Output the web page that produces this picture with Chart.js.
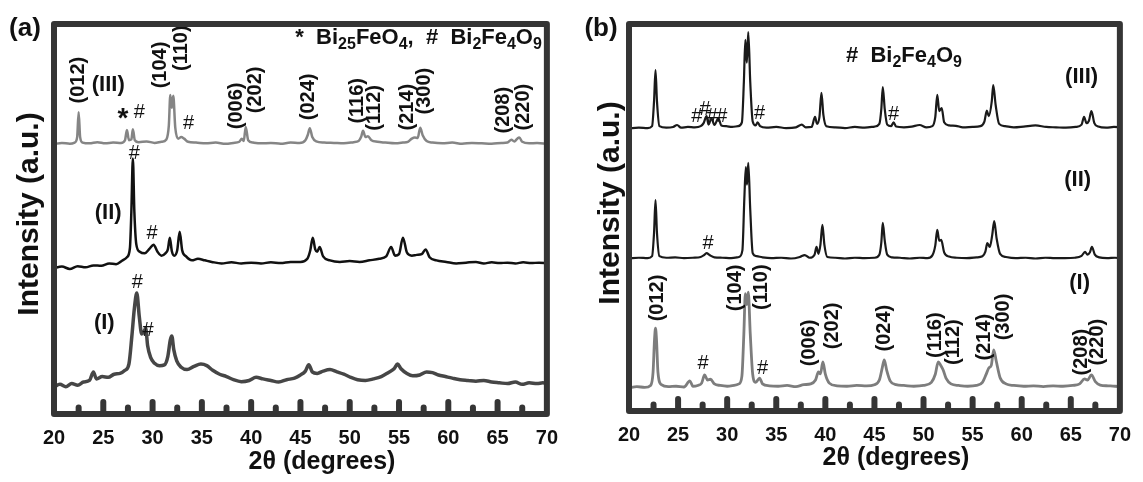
<!DOCTYPE html>
<html>
<head>
<meta charset="utf-8">
<script src="https://cdn.jsdelivr.net/npm/chart.js@4.4.1/dist/chart.umd.min.js"></script>
<style>
  body { margin:0; background:#fff; }
  #wrap { position:relative; width:1143px; height:482px; overflow:hidden; background:#fff; }
  canvas { position:absolute; top:0; }
  #chartA { left:0; }
  #chartB { left:570px; }
</style>
</head>
<body>
<div id="wrap">
  <canvas id="chartA" width="570" height="482"></canvas>
  <canvas id="chartB" width="573" height="482"></canvas>
</div>
<script>
// tick labels (2theta, degrees)
const tickLabels = [20, 25, 30, 35, 40, 45, 50, 55, 60, 65, 70];
const majorTicks = [25, 30, 35, 40, 45, 50, 55, 60, 65];
const minorTicks = [22.5, 27.5, 32.5, 37.5, 42.5, 47.5, 52.5, 57.5, 62.5, 67.5];

// (a) pattern III - [2theta, intensity(a.u., offset)]
const patA3 = [[20,69.2],[20.8,69.5],[21.6,69.3],[22.1,69.6],[22.35,71.0],[22.5,77.4],[22.65,71.0],[22.9,69.6],[23.6,69.4],[24.4,69.7],
  [25.2,69.4],[26.0,69.6],[26.8,69.5],[27.2,70.2],[27.4,72.8],[27.6,70.2],[27.85,70.4],[28.0,73.0],[28.2,70.2],[28.6,69.7],
  [29.4,69.9],[30.2,69.5],[30.9,69.8],[31.4,70.4],[31.65,74.0],[31.8,81.8],[31.95,78.5],[32.1,81.6],[32.3,73.5],[32.6,70.6],
  [32.9,71.0],[33.2,70.6],[33.6,69.8],[34.4,69.6],[35.4,69.4],[36.4,69.6],[37.4,69.3],[38.2,69.5],[38.8,69.8],[39.05,70.6],
  [39.25,70.0],[39.45,73.6],[39.7,70.2],[40.2,69.6],[41.0,69.4],[42.0,69.5],[43.0,69.3],[44.0,69.6],[44.9,69.5],[45.5,70.2],
  [45.75,71.6],[45.95,73.3],[46.2,71.0],[46.6,69.9],[47.4,69.6],[48.4,69.5],[49.4,69.4],[50.4,69.7],[50.9,70.0],[51.15,71.0],
  [51.35,72.6],[51.6,71.0],[51.85,71.2],[52.2,70.2],[52.8,69.8],[53.6,69.6],[54.6,69.4],[55.4,69.6],[55.9,69.8],[56.3,70.6],
  [56.6,70.9],[56.9,70.8],[57.15,73.4],[57.4,71.5],[57.8,70.0],[58.4,69.6],[59.4,69.4],[60.4,69.6],[61.4,69.3],[62.4,69.5],
  [63.4,69.4],[64.4,69.3],[65.4,69.5],[66.0,69.6],[66.4,70.3],[66.7,69.9],[67.0,70.6],[67.2,70.9],[67.5,69.8],[68.2,69.4],
  [69.0,69.5],[70,69.3]];

// (a) pattern II
const patA2 = [[20,37.4],[20.8,37.8],[21.6,37.2],[22.4,37.9],[23.2,37.6],[24.0,38.1],[24.8,38.0],[25.6,38.6],[26.3,38.4],[26.9,39.3],
  [27.4,40.2],[27.7,42.5],[27.85,52],[28.0,65.5],[28.15,52],[28.35,43.5],[28.7,41.6],[29.2,41.2],[29.7,42.4],[30.1,43.4],
  [30.5,41.6],[30.9,40.6],[31.3,41.2],[31.55,42.2],[31.75,45.2],[31.95,41.8],[32.2,40.6],[32.5,42.0],[32.75,46.7],[33.0,42.0],
  [33.4,40.4],[34.0,39.4],[34.6,39.8],[35.3,39.4],[36.0,39.0],[37.0,38.6],[38.0,38.9],[39.0,38.6],[40.0,38.8],[41.0,38.6],
  [42.0,38.9],[43.0,38.7],[44.0,39.0],[45.0,39.0],[45.7,39.8],[46.0,42.0],[46.25,45.2],[46.5,42.2],[46.7,41.6],[46.95,42.8],
  [47.3,40.4],[48.0,39.4],[49.0,39.0],[50.0,39.2],[51.0,39.0],[52.0,39.4],[53.0,39.8],[53.7,40.4],[54.2,42.8],[54.6,40.6],
  [55.0,41.0],[55.4,45.2],[55.8,41.4],[56.3,40.6],[56.8,40.8],[57.3,41.0],[57.7,42.2],[58.1,40.2],[58.8,39.4],[59.8,39.0],
  [60.8,38.6],[61.8,38.8],[62.8,39.0],[63.6,38.6],[64.4,38.9],[65.2,38.7],[66.0,38.8],[66.8,38.6],[67.6,38.9],[68.4,38.7],
  [69.2,38.8],[70,38.7]];

// (a) pattern I
const patA1 = [[20,6.9],[20.6,7.6],[21.2,7.0],[21.8,7.8],[22.4,7.4],[23.0,8.2],[23.6,8.6],[24.0,10.8],[24.3,9.0],[24.9,9.6],
  [25.5,9.4],[26.1,10.2],[26.7,10.4],[27.2,11.2],[27.6,12.8],[27.9,20],[28.15,27],[28.4,31.0],[28.65,25.0],[28.9,20.5],
  [29.1,21.0],[29.3,22.0],[29.5,17.5],[29.8,14.5],[30.2,13.0],[30.7,12.4],[31.2,12.6],[31.55,14.8],[31.8,19.0],[31.95,20.0],
  [32.15,16.5],[32.45,13.6],[32.9,12.0],[33.5,11.4],[34.2,12.2],[34.9,12.8],[35.5,12.4],[36.1,11.2],[36.8,10.2],[37.5,9.6],
  [38.2,8.8],[39.0,8.3],[39.8,8.6],[40.5,9.4],[41.2,9.0],[42.0,8.6],[42.8,8.2],[43.6,8.8],[44.4,9.2],[45.0,10.0],
  [45.5,11.0],[45.85,12.6],[46.2,10.8],[46.7,10.4],[47.3,11.0],[48.0,11.4],[48.7,10.8],[49.4,10.2],[50.1,9.4],[50.8,8.8],
  [51.6,8.6],[52.4,9.0],[53.2,9.6],[53.9,10.6],[54.5,11.6],[54.85,12.8],[55.2,11.6],[55.8,10.4],[56.4,9.8],[57.1,10.0],
  [57.8,10.8],[58.4,10.6],[59.0,10.0],[59.7,9.6],[60.4,9.2],[61.2,8.8],[62.0,8.6],[62.8,8.4],[63.6,8.6],[64.4,8.2],
  [65.2,8.0],[66.0,7.8],[66.8,8.2],[67.5,7.6],[68.2,8.0],[69.0,7.8],[69.6,8.0],[70,7.8]];

// (b) pattern III
const patB3 = [[20,73.0],[21.0,73.2],[21.9,73.1],[22.35,73.6],[22.55,80],[22.7,88.1],[22.85,80],[23.1,73.6],[23.8,73.2],[24.5,73.4],
  [24.9,73.9],[25.3,73.2],[26.0,73.4],[26.7,73.3],[27.3,73.6],[27.6,74.4],[27.9,76.2],[28.1,74.0],[28.4,75.6],[28.7,73.9],
  [29.1,75.6],[29.4,73.8],[29.9,73.6],[30.5,73.4],[31.1,73.6],[31.5,74.6],[31.7,85],[31.85,95.9],[32.0,90.0],[32.15,97.9],
  [32.35,85],[32.6,74.8],[32.9,73.8],[33.1,74.6],[33.35,73.6],[34.0,73.2],[35.0,73.4],[36.0,73.1],[37.0,73.3],[37.6,74.0],
  [38.0,73.3],[38.6,73.4],[38.95,76.0],[39.15,74.2],[39.4,76],[39.6,82.2],[39.8,76.5],[40.1,73.6],[41.0,73.3],[42.0,73.1],
  [43.0,73.4],[44.0,73.2],[45.0,73.5],[45.5,74.2],[45.7,78],[45.85,83.7],[46.05,78],[46.3,74.0],[46.7,73.6],[46.95,74.6],
  [47.2,73.5],[48.0,73.3],[48.8,73.5],[49.6,73.9],[50.3,73.3],[50.9,73.6],[51.2,76],[51.4,81.7],[51.6,77.5],[51.85,78.3],
  [52.1,74.6],[52.6,73.8],[53.3,73.7],[54.0,73.3],[55.0,73.4],[55.8,73.6],[56.2,74.8],[56.45,77.6],[56.65,76.2],[56.95,80],
  [57.1,84.2],[57.35,79],[57.7,74.2],[58.3,73.6],[59.2,73.3],[60.2,73.5],[61.4,73.8],[62.5,73.4],[63.5,73.3],[64.5,73.2],
  [65.5,73.4],[66.1,74.0],[66.35,76.0],[66.6,74.4],[66.85,75.0],[67.1,77.5],[67.4,74.4],[67.8,73.5],[68.6,73.2],[69.4,73.4],
  [70,73.3]];

// (b) pattern II
const patB2 = [[20,39.4],[21.0,39.6],[21.9,39.5],[22.35,40.0],[22.55,46],[22.7,54.5],[22.85,46],[23.1,40.0],[23.8,39.6],[24.7,39.7],
  [25.6,39.5],[26.5,39.6],[27.3,39.8],[27.6,40.2],[27.9,40.8],[28.2,40.3],[28.7,39.7],[29.5,39.6],[30.4,39.5],[31.2,39.8],
  [31.55,41.5],[31.75,55],[31.9,63.0],[32.02,58.5],[32.15,64.1],[32.35,52],[32.6,40.8],[33.0,40.0],[33.6,39.7],[34.5,39.5],
  [35.5,39.6],[36.5,39.4],[37.4,39.8],[37.9,40.3],[38.4,39.6],[38.9,40.4],[39.1,42.4],[39.3,40.6],[39.5,43],[39.7,48.1],
  [39.9,43],[40.2,39.8],[41.0,39.6],[42.0,39.4],[43.0,39.6],[44.0,39.5],[45.0,39.6],[45.5,40.4],[45.7,43.5],[45.85,48.6],
  [46.05,44],[46.3,40.4],[46.8,39.7],[47.6,39.6],[48.6,39.4],[49.6,39.6],[50.4,39.5],[50.9,40.2],[51.2,42.8],[51.4,46.8],
  [51.6,44.0],[51.8,44.2],[52.1,41.0],[52.6,39.9],[53.4,39.6],[54.4,39.5],[55.4,39.7],[56.0,40.0],[56.3,41.2],[56.5,43.4],
  [56.75,42.4],[57.0,45.5],[57.2,49.1],[57.45,44.5],[57.8,40.6],[58.4,39.8],[59.4,39.5],[60.4,39.6],[61.4,39.4],[62.4,39.6],
  [63.4,39.5],[64.4,39.5],[65.4,39.6],[66.1,40.1],[66.45,41.1],[66.7,40.4],[66.95,41.0],[67.15,42.4],[67.45,40.4],[67.9,39.7],
  [68.7,39.5],[69.5,39.6],[70,39.5]];

// (b) pattern I
const patB1 = [[20,6.0],[20.8,6.3],[21.6,6.1],[22.2,6.6],[22.45,10],[22.6,18.5],[22.7,21.4],[22.8,18.5],[22.95,10],[23.3,6.8],
  [24.0,6.3],[24.8,6.4],[25.6,6.2],[26.2,7.8],[26.5,6.4],[27.0,6.6],[27.4,7.2],[27.7,9.3],[28.0,8.0],[28.3,8.2],
  [28.7,7.0],[29.3,6.6],[30.0,6.4],[30.7,6.6],[31.2,7.0],[31.5,9],[31.7,20],[31.85,30.3],[32.0,27.5],[32.15,30.7],
  [32.35,20],[32.6,9.5],[32.9,7.4],[33.3,8.5],[33.6,7.0],[34.3,6.5],[35.2,6.4],[36.1,6.6],[37.0,6.3],[37.8,6.8],
  [38.5,7.0],[39.0,8.0],[39.3,10.1],[39.5,9.6],[39.75,12.7],[40.0,9.5],[40.4,7.2],[41.2,6.5],[42.2,6.4],[43.2,6.6],
  [44.2,6.5],[45.0,6.8],[45.5,8.0],[45.8,11.2],[46.0,13.2],[46.25,10.5],[46.6,7.8],[47.2,6.8],[48.0,6.6],[49.0,6.4],
  [50.0,6.6],[50.8,7.4],[51.2,9.5],[51.5,12.7],[51.75,11.8],[52.0,10.6],[52.3,8.4],[52.8,7.0],[53.6,6.6],[54.5,6.4],
  [55.4,6.6],[56.0,7.4],[56.4,9.6],[56.65,11.1],[56.9,11.8],[57.15,15.8],[57.4,13.0],[57.8,8.6],[58.4,7.0],[59.2,6.6],
  [60.2,6.4],[61.2,6.5],[62.2,6.3],[63.2,6.5],[64.2,6.4],[65.2,6.6],[65.9,7.0],[66.4,8.3],[66.7,8.0],[67.1,9.3],
  [67.5,7.6],[68.0,6.7],[68.8,6.5],[69.5,6.4],[70,6.3]];

const SANS = '"Liberation Sans", Arial, sans-serif';
const NARROW = '"Liberation Sans Narrow", "Liberation Sans", Arial, sans-serif';
const FONTS = {
  hkl: 'bold 20px ' + SANS,
  tag: 'bold 22px ' + SANS,
  hash: '20px ' + SANS,
  star: 'bold 28px ' + SANS
};

// annotations: [text, 2theta, intensity, style]
const notesA = [
  ['(012)', 22.5, 85.6, 'hkl'], ['(104)', 30.85, 89.5, 'hkl'], ['(110)', 32.95, 93.8, 'hkl'],
  ['(006)', 38.5, 79.0, 'hkl'], ['(202)', 40.4, 83.1, 'hkl'], ['(024)', 45.8, 81.3, 'hkl'],
  ['(116)', 50.75, 80.3, 'hkl'], ['(112)', 52.55, 78.5, 'hkl'], ['(214)', 55.9, 78.7, 'hkl'],
  ['(300)', 57.6, 82.8, 'hkl'], ['(208)', 65.6, 77.9, 'hkl'], ['(220)', 67.6, 78.7, 'hkl'],
  ['(III)', 25.5, 84.4, 'tag'], ['(II)', 25.5, 51.5, 'tag'], ['(I)', 25.1, 23.3, 'tag'],
  ['*', 27.0, 75.5, 'star'],
  ['#', 28.65, 77.2, 'hash'], ['#', 33.65, 74.6, 'hash'], ['#', 28.15, 66.9, 'hash'],
  ['#', 29.95, 46.4, 'hash'], ['#', 28.45, 33.6, 'hash'], ['#', 29.55, 21.5, 'hash']
];
const notesB = [
  ['(012)', 22.9, 29.2, 'hkl'], ['(104)', 30.85, 31.8, 'hkl'], ['(110)', 33.45, 32.0, 'hkl'],
  ['(006)', 38.4, 17.6, 'hkl'], ['(202)', 40.7, 22.0, 'hkl'], ['(024)', 46.05, 21.4, 'hkl'],
  ['(116)', 51.25, 19.6, 'hkl'], ['(112)', 53.05, 17.8, 'hkl'], ['(214)', 56.2, 19.1, 'hkl'],
  ['(300)', 58.1, 24.3, 'hkl'], ['(208)', 66.05, 15.2, 'hkl'], ['(220)', 67.75, 17.8, 'hkl'],
  ['(III)', 66.1, 86.3, 'tag'], ['(II)', 65.7, 59.7, 'tag'], ['(I)', 65.9, 33.1, 'tag'],
  ['#', 26.9, 76.0, 'hash'], ['#', 27.75, 77.8, 'hash'], ['#', 28.45, 76.0, 'hash'], ['#', 29.45, 76.0, 'hash'],
  ['#', 33.3, 77.0, 'hash'], ['#', 46.95, 76.5, 'hash'], ['#', 28.05, 43.4, 'hash'],
  ['#', 27.55, 12.4, 'hash'], ['#', 33.6, 10.9, 'hash']
];

const legendA = [['*  ', 'n'], ['Bi', 'n'], ['25', 's'], ['FeO', 'n'], ['4', 's'], [',  #  Bi', 'n'], ['2', 's'], ['Fe', 'n'], ['4', 's'], ['O', 'n'], ['9', 's']];
const legendB = [['#  Bi', 'n'], ['2', 's'], ['Fe', 'n'], ['4', 's'], ['O', 'n'], ['9', 's']];

const panels = {
  chartA: { letter: '(a)', letterX: 25, notes: notesA, legend: legendA, legendAlign: 'right', legendDx: -5, legendDy: 20,
            yTitleX: 30, yTitleY: 214, xTitleX: 322, xTitleY: 462 },
  chartB: { letter: '(b)', letterX: 31, notes: notesB, legend: legendB, legendAlign: 'left', legendDx: 217, legendDy: 38,
            yTitleX: 41, yTitleY: 203, xTitleX: 326, xTitleY: 458 }
};

function txt(ctx, s, x, y, font, rot) {
  ctx.save();
  ctx.translate(x, y);
  if (rot) ctx.rotate(-Math.PI / 2);
  ctx.font = font;
  ctx.textAlign = 'center';
  ctx.textBaseline = 'middle';
  ctx.fillText(s, 0, 0);
  ctx.restore();
}

function rich(ctx, parts, x, yBase, align) {
  const big = 'bold 22px ' + SANS, small = 'bold 16px ' + SANS;
  ctx.save();
  ctx.textAlign = 'left';
  ctx.textBaseline = 'alphabetic';
  let w = 0;
  parts.forEach(p => { ctx.font = p[1] === 's' ? small : big; w += ctx.measureText(p[0]).width; });
  let cx = align === 'right' ? x - w : x;
  parts.forEach(p => {
    ctx.font = p[1] === 's' ? small : big;
    ctx.fillText(p[0], cx, yBase + (p[1] === 's' ? 5 : 0));
    cx += ctx.measureText(p[0]).width;
  });
  ctx.restore();
}

const decor = {
  id: 'decor',
  afterDatasetsDraw(chart) {
    const cfg = panels[chart.canvas.id];
    const ctx = chart.ctx, xs = chart.scales.x, ys = chart.scales.y, a = chart.chartArea;
    ctx.save();
    ctx.fillStyle = '#111';
    cfg.notes.forEach(n => {
      txt(ctx, n[0], xs.getPixelForValue(n[1]), ys.getPixelForValue(n[2]), FONTS[n[3]], n[3] === 'hkl');
    });
    rich(ctx, cfg.legend, cfg.legendAlign === 'right' ? a.right + cfg.legendDx : a.left + cfg.legendDx, a.top + cfg.legendDy, cfg.legendAlign);
    ctx.restore();
  },
  afterDraw(chart) {
    const cfg = panels[chart.canvas.id];
    const ctx = chart.ctx, xs = chart.scales.x, a = chart.chartArea;
    ctx.save();
    // inward tick marks
    ctx.strokeStyle = '#353535';
    ctx.lineCap = 'round';
    ctx.lineWidth = 6;
    majorTicks.forEach(v => {
      const px = xs.getPixelForValue(v);
      ctx.beginPath(); ctx.moveTo(px, a.bottom); ctx.lineTo(px, a.bottom - 12); ctx.stroke();
    });
    minorTicks.forEach(v => {
      const px = xs.getPixelForValue(v);
      ctx.beginPath(); ctx.moveTo(px, a.bottom); ctx.lineTo(px, a.bottom - 6.5); ctx.stroke();
    });
    // frame
    ctx.lineCap = 'butt';
    ctx.lineJoin = 'round';
    ctx.strokeRect(a.left, a.top, a.right - a.left, a.bottom - a.top);
    // titles
    ctx.fillStyle = '#111';
    txt(ctx, cfg.letter, cfg.letterX, 29, 'bold 26px ' + SANS, false);
    txt(ctx, 'Intensity (a.u.)', cfg.yTitleX, cfg.yTitleY, 'bold 30px ' + SANS, true);
    txt(ctx, '2θ (degrees)', cfg.xTitleX, cfg.xTitleY, 'bold 25px ' + NARROW, false);
    ctx.restore();
  }
};

function line(points, color, width) {
  return {
    data: points.map(p => ({ x: p[0], y: p[1] })),
    borderColor: color,
    borderWidth: width,
    pointRadius: 0,
    fill: false,
    cubicInterpolationMode: 'monotone'
  };
}

function makeChart(id, datasets, padLeft, padRight, axisH) {
  return new Chart(document.getElementById(id), {
    type: 'line',
    data: { datasets },
    options: {
      responsive: false,
      animation: false,
      devicePixelRatio: 1,
      layout: { padding: { left: padLeft, right: padRight, top: 24, bottom: 0 } },
      plugins: { legend: { display: false }, tooltip: { enabled: false } },
      scales: {
        x: {
          type: 'linear', min: 20, max: 70,
          afterBuildTicks: s => { s.ticks = tickLabels.map(v => ({ value: v })); },
          afterFit: s => { s.height = axisH; },
          grid: { display: false, drawTicks: false },
          border: { display: false },
          ticks: { padding: 12, maxRotation: 0, autoSkip: false, color: '#111',
                   font: { family: NARROW, size: 20, weight: 'bold' } }
        },
        y: { display: false, min: 0, max: 100 }
      }
    },
    plugins: [decor]
  });
}

makeChart('chartA', [
  line(patA3, '#858585', 2.5),
  line(patA2, '#111111', 2.5),
  line(patA1, '#464646', 3.5)
], 54, 20, 68);

makeChart('chartB', [
  line(patB3, '#1a1a1a', 2.2),
  line(patB2, '#1a1a1a', 2.2),
  line(patB1, '#7d7d7d', 2.8)
], 59, 10, 71);
</script>
</body>
</html>
